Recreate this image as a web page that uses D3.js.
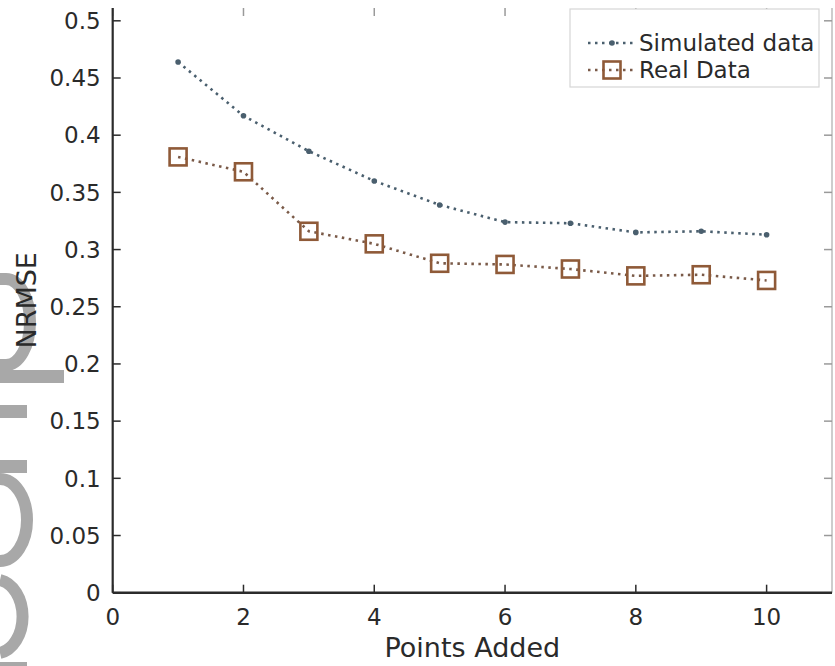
<!DOCTYPE html>
<html>
<head>
<meta charset="utf-8">
<script src="https://cdn.jsdelivr.net/npm/d3@7/dist/d3.min.js"></script>
<style>
  html, body { margin: 0; padding: 0; background: #fff; }
  svg { display: block; }
  text { font-family: "DejaVu Sans", sans-serif; }
</style>
</head>
<body>
<svg id="chart" width="835" height="666"></svg>
<script>
// Points added on the x axis
const pointsAdded = [1, 2, 3, 4, 5, 6, 7, 8, 9, 10];
// NRMSE for each series
const simulatedData = [0.464, 0.417, 0.386, 0.360, 0.339, 0.324, 0.323, 0.315, 0.316, 0.313];
const realData = [0.381, 0.368, 0.316, 0.305, 0.288, 0.287, 0.283, 0.277, 0.278, 0.273];
// Axis ticks
const xTicks = [0, 2, 4, 6, 8, 10];
const yTicks = [0, 0.05, 0.1, 0.15, 0.2, 0.25, 0.3, 0.35, 0.4, 0.45, 0.5];
const seriesNames = ["Simulated data", "Real Data"];

(function draw() {
  const svg = d3.select("#chart");
  const left = 112.7, right = 832, bottom = 592.7, plotTop = 8;

  const x = d3.scaleLinear().domain([0, 11]).range([left, right]);
  const y = d3.scaleLinear().domain([0, 0.5112]).range([bottom, plotTop]);

  const axisColor = "#2b2b2b";
  const textColor = "#2a2a2a";
  const simColor = "#4a5f6e";
  const realColor = "#8f5a38";
  const realLine = "#7a5a48";

  // grey lettering along the left margin
  const stamp = svg.append("g").attr("fill", "#a8a8a8").attr("stroke", "#a8a8a8");
  stamp.append("path").attr("fill", "none").attr("stroke-width", 12)
    .attr("d", "M0,279 H6 A24,43 0 0 1 6,365 H0");
  stamp.append("rect").attr("stroke", "none").attr("x", 0).attr("y", 370).attr("width", 64).attr("height", 13);
  stamp.append("rect").attr("stroke", "none").attr("x", 0).attr("y", 405).attr("width", 27).attr("height", 13);
  stamp.append("rect").attr("stroke", "none").attr("x", 0).attr("y", 460).attr("width", 27).attr("height", 13);
  stamp.append("path").attr("fill", "none").attr("stroke-width", 12)
    .attr("d", "M0,479 A27,41 0 0 1 0,561");
  stamp.append("path").attr("fill", "none").attr("stroke-width", 12)
    .attr("d", "M0,580 A27,37 0 0 1 0,653");
  stamp.append("rect").attr("stroke", "none").attr("x", 0).attr("y", 662).attr("width", 27).attr("height", 6);

  // right border
  svg.append("line").attr("x1", right).attr("x2", right).attr("y1", plotTop).attr("y2", bottom)
    .attr("stroke", "#bdbdbd").attr("stroke-width", 1.5);

  // tick marks pointing inward on all four sides
  const tickLen = 8;
  const tickG = svg.append("g").attr("stroke", axisColor).attr("stroke-width", 1.5);
  yTicks.forEach(v => {
    tickG.append("line").attr("x1", left).attr("x2", left + tickLen).attr("y1", y(v)).attr("y2", y(v));
    tickG.append("line").attr("x1", right).attr("x2", right - tickLen).attr("y1", y(v)).attr("y2", y(v)).attr("stroke", "#9a9a9a");
  });
  xTicks.forEach(v => {
    tickG.append("line").attr("x1", x(v)).attr("x2", x(v)).attr("y1", bottom).attr("y2", bottom - tickLen);
    tickG.append("line").attr("x1", x(v)).attr("x2", x(v)).attr("y1", plotTop).attr("y2", plotTop + tickLen).attr("stroke", "#9a9a9a");
  });

  // left and bottom axis lines
  svg.append("line").attr("x1", left).attr("x2", left).attr("y1", plotTop).attr("y2", bottom)
    .attr("stroke", axisColor).attr("stroke-width", 2.2);
  svg.append("line").attr("x1", left).attr("x2", right).attr("y1", bottom).attr("y2", bottom)
    .attr("stroke", axisColor).attr("stroke-width", 2.5);

  // tick labels
  const fmtY = v => (v === 0 ? "0" : String(+v.toFixed(2)));
  svg.append("g").selectAll("text").data(yTicks).join("text")
    .attr("x", left - 12).attr("y", d => y(d)).attr("dy", "0.36em")
    .attr("text-anchor", "end").attr("font-size", 23).attr("fill", textColor)
    .text(fmtY);
  svg.append("g").selectAll("text").data(xTicks).join("text")
    .attr("x", d => x(d)).attr("y", 625)
    .attr("text-anchor", "middle").attr("font-size", 23).attr("fill", textColor)
    .text(d => d);

  // axis titles
  svg.append("text").attr("x", (left + right) / 2).attr("y", 657)
    .attr("text-anchor", "middle").attr("font-size", 27).attr("fill", textColor)
    .text("Points Added");
  svg.append("text").attr("transform", `translate(36,${(plotTop + bottom) / 2}) rotate(-90)`)
    .attr("text-anchor", "middle").attr("font-size", 27).attr("fill", textColor)
    .text("NRMSE");

  // series lines
  const line = d3.line().x(d => x(d[0])).y(d => y(d[1]));
  const simPts = pointsAdded.map((p, i) => [p, simulatedData[i]]);
  const realPts = pointsAdded.map((p, i) => [p, realData[i]]);

  svg.append("path").datum(simPts).attr("d", line).attr("fill", "none")
    .attr("stroke", simColor).attr("stroke-width", 2.6).attr("stroke-dasharray", "2.5,4.5");
  svg.append("g").selectAll("circle").data(simPts).join("circle")
    .attr("cx", d => x(d[0])).attr("cy", d => y(d[1])).attr("r", 2.8).attr("fill", simColor);

  svg.append("path").datum(realPts).attr("d", line).attr("fill", "none")
    .attr("stroke", realLine).attr("stroke-width", 2.6).attr("stroke-dasharray", "2.5,4.5");
  const sq = 17;
  svg.append("g").selectAll("rect").data(realPts).join("rect")
    .attr("x", d => x(d[0]) - sq / 2).attr("y", d => y(d[1]) - sq / 2)
    .attr("width", sq).attr("height", sq)
    .attr("fill", "none").attr("stroke", realColor).attr("stroke-width", 2.6);

  // legend
  const lg = svg.append("g");
  lg.append("rect").attr("x", 570).attr("y", 9).attr("width", 249).attr("height", 78)
    .attr("fill", "#fff").attr("stroke", "#d6d6d6").attr("stroke-width", 1.2);
  const legendRows = [
    { name: seriesNames[0], color: simColor, lineColor: simColor, cy: 43, marker: "dot" },
    { name: seriesNames[1], color: realColor, lineColor: realLine, cy: 70, marker: "square" }
  ];
  legendRows.forEach(r => {
    lg.append("line").attr("x1", 588).attr("x2", 637).attr("y1", r.cy).attr("y2", r.cy)
      .attr("stroke", r.lineColor).attr("stroke-width", 2.6)
      .attr("stroke-dasharray", "2.5,4.5");
    if (r.marker === "dot") {
      lg.append("circle").attr("cx", 612).attr("cy", r.cy).attr("r", 2.8).attr("fill", r.color);
    } else {
      lg.append("rect").attr("x", 612 - sq / 2).attr("y", r.cy - sq / 2).attr("width", sq).attr("height", sq)
        .attr("fill", "none").attr("stroke", r.color).attr("stroke-width", 2.6);
    }
    lg.append("text").attr("x", 639).attr("y", r.cy).attr("dy", "0.36em")
      .attr("font-size", 23).attr("fill", textColor).text(r.name);
  });
})();
</script>
</body>
</html>
